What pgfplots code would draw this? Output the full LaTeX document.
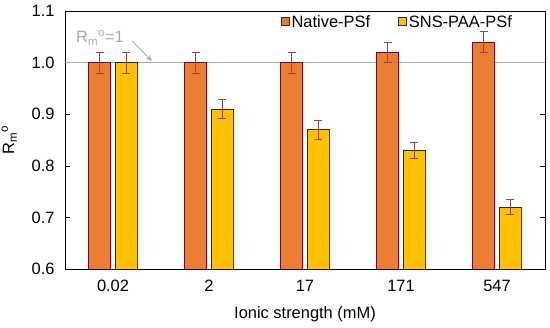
\documentclass[border=0pt]{standalone}
\usepackage{fontspec}
\setmainfont{Liberation Sans}
\usepackage{pgfplots}
\pgfplotsset{compat=1.18}
\usetikzlibrary{arrows.meta}
\definecolor{nat}{RGB}{234,125,50}
\definecolor{natb}{RGB}{120,10,20}
\definecolor{sns}{RGB}{255,192,0}
\definecolor{snsb}{RGB}{50,40,10}
\definecolor{errc}{RGB}{150,70,70}
\definecolor{refl}{RGB}{170,170,170}
\begin{document}
\begin{tikzpicture}[font=\fontsize{16.5}{19}\selectfont]
\useasboundingbox (-65bp,-59bp) rectangle (485bp,269bp);
\begin{axis}[at={(0,0)}, anchor=south west, scale only axis,
  width=480bp, height=258bp,
  xmin=-0.5, xmax=4.5, ymin=0.6, ymax=1.1,
  ytick={0.6,0.7,0.8,0.9,1.0,1.1},
  yticklabel style={xshift=-7bp, /pgf/number format/.cd, fixed, fixed zerofill, precision=1},
  xticklabel style={yshift=-8bp},
  /pgf/number format/assume math mode=true,
  xtick={0,1,2,3,4}, xticklabels={0.02,2,17,171,547},
  x tick style={draw=none},
  y tick style={black, line width=0.6pt},
  tick align=inside, major tick length=5bp,
  axis line style={line width=0.8pt},
  xlabel={Ionic strength (mM)},
  xlabel style={yshift=-8bp},
  ylabel={R\textsubscript{m}\textsuperscript{o}},
  ylabel style={yshift=8bp},
  legend style={at={(0.445,1)}, anchor=north west, draw=none, fill=none,
    legend columns=2, inner sep=2bp,
    /tikz/every even column/.append style={column sep=26bp}},
  legend image code/.code={\draw[#1] (0bp,-4bp) rectangle (8bp,4bp);},
]
\addplot[refl, line width=0.8pt, forget plot] coordinates {(-0.5,1) (4.5,1)};
\addplot[ybar, bar width=0.229, bar shift=0, fill=nat, draw=natb, line width=0.8pt,
  error bars/.cd, y dir=both, y explicit,
  error bar style={errc, line width=0.8pt},
  error mark options={rotate=90, errc, mark size=4bp, line width=0.8pt}]
  table[x=x, y=y, y error=e] {
x y e
-0.14 1.00 0.020
0.86 1.00 0.020
1.86 1.00 0.020
2.86 1.02 0.020
3.86 1.04 0.021
};
\addlegendentry{Native-PSf}
\addplot[ybar, bar width=0.229, bar shift=0, fill=sns, draw=snsb, line width=0.8pt,
  error bars/.cd, y dir=both, y explicit,
  error bar style={errc, line width=0.8pt},
  error mark options={rotate=90, errc, mark size=4bp, line width=0.8pt}]
  table[x=x, y=y, y error=e] {
x y e
0.14 1.00 0.020
1.14 0.91 0.018
2.14 0.87 0.018
3.14 0.83 0.016
4.14 0.72 0.014
};
\addlegendentry{SNS-PAA-PSf}
\node[text=refl, inner sep=0pt] at (axis cs:-0.135,1.048) {R\textsubscript{m}\textsuperscript{o}=1};
\draw[refl, line width=0.8pt, -{Stealth[length=6bp,width=5bp]}] (axis cs:0.198,1.042) -- (axis cs:0.406,1.003);
\end{axis}
\end{tikzpicture}
\end{document}
